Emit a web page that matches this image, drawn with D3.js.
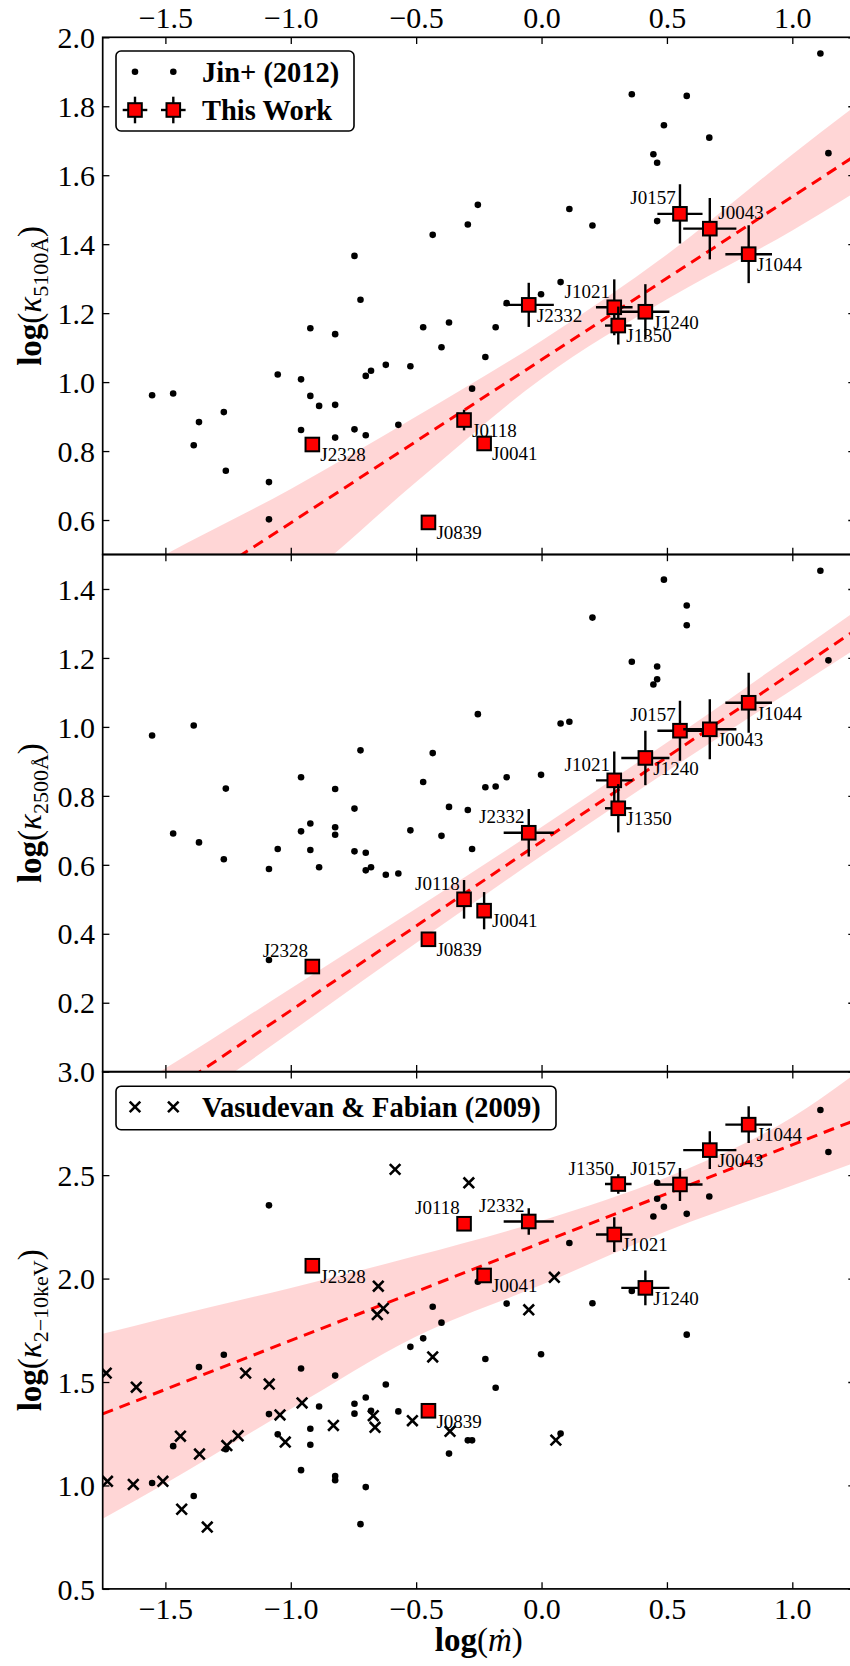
<!DOCTYPE html>
<html>
<head>
<meta charset="utf-8">
<script src="https://cdnjs.cloudflare.com/ajax/libs/d3/7.8.5/d3.min.js"></script>
<style>
  body { margin: 0; background: #fff; }
  text { font-family: 'Liberation Serif', 'DejaVu Serif', serif; fill: #000; }
</style>
</head>
<body>
<div class="chart"></div>
<script>
const svgWidth = 850;
const svgHeight = 1666;

//this work: sources, accretion rate and the three bolometric corrections
const names = ['J2328', 'J0839', 'J0118', 'J0041', 'J2332', 'J1021', 'J1350', 'J1240', 'J0157', 'J0043', 'J1044'];
const logMdot = [-0.914, -0.451, -0.309, -0.229, -0.051, 0.290, 0.306, 0.414, 0.552, 0.671, 0.826];
const logMdotErr = [0, 0, 0, 0, 0.100, 0.073, 0.053, 0.096, 0.090, 0.106, 0.093];
const k5100 = [0.819, 0.593, 0.890, 0.822, 1.224, 1.217, 1.164, 1.204, 1.488, 1.445, 1.371];
const k5100Err = [0.01, 0.01, 0.03, 0.02, 0.064, 0.081, 0.055, 0.080, 0.086, 0.089, 0.084];
const k2500 = [0.305, 0.384, 0.500, 0.467, 0.693, 0.845, 0.764, 0.910, 0.989, 0.993, 1.070];
const k2500Err = [0.01, 0.01, 0.056, 0.054, 0.069, 0.084, 0.070, 0.079, 0.087, 0.087, 0.087];
const kX = [2.062, 1.361, 2.265, 2.015, 2.276, 2.213, 2.457, 1.955, 2.455, 2.621, 2.744];
const kXErr = [0, 0, 0, 0, 0.064, 0.084, 0.047, 0.084, 0.080, 0.091, 0.089];

//Jin+ (2012) sample, [log mdot, log kappa]
const jin5100 = [[-1.553,0.962],[-1.469,0.967],[-1.387,0.817],[-1.366,0.884],[-1.267,0.913],[-1.259,0.743],[-1.087,0.710],[-1.087,0.602],[-1.052,1.022],[-0.959,1.008],[-0.959,0.861],[-0.922,1.156],[-0.922,0.960],[-0.887,0.931],[-0.823,1.139],[-0.823,0.934],[-0.823,0.839],[-0.746,1.366],[-0.722,1.239],[-0.746,0.863],[-0.701,1.018],[-0.680,1.033],[-0.701,0.846],[-0.621,1.050],[-0.571,0.876],[-0.523,1.046],[-0.472,1.159],[-0.434,1.427],[-0.399,1.101],[-0.369,1.173],[-0.294,1.457],[-0.254,1.514],[-0.277,0.981],[-0.224,1.073],[-0.183,1.159],[-0.139,1.229],[-0.002,1.255],[0.076,1.290],[0.111,1.502],[0.203,1.454],[0.360,1.835],[0.579,1.830],[0.488,1.745],[0.669,1.709],[0.446,1.661],[0.461,1.636],[0.461,1.467],[1.112,1.953],[1.144,1.664]];
const jin2500 = [[-1.553,0.975],[-1.469,0.691],[-1.387,1.004],[-1.366,0.665],[-1.267,0.616],[-1.259,0.821],[-1.087,0.588],[-1.087,0.324],[-1.052,0.646],[-0.959,0.854],[-0.959,0.697],[-0.922,0.720],[-0.922,0.643],[-0.887,0.593],[-0.823,0.820],[-0.823,0.709],[-0.823,0.687],[-0.746,0.763],[-0.722,0.932],[-0.746,0.639],[-0.701,0.635],[-0.701,0.584],[-0.680,0.593],[-0.621,0.571],[-0.571,0.575],[-0.523,0.700],[-0.472,0.840],[-0.434,0.924],[-0.399,0.684],[-0.369,0.768],[-0.294,0.759],[-0.254,1.037],[-0.277,0.646],[-0.224,0.825],[-0.183,0.827],[-0.139,0.854],[-0.002,0.861],[0.076,1.010],[0.111,1.015],[0.203,1.317],[0.360,1.189],[0.579,1.352],[0.488,1.427],[0.579,1.295],[0.461,1.175],[0.461,1.138],[0.446,1.123],[1.112,1.453],[1.144,1.193]];
const jinX = [[-1.087,2.354],[-1.366,1.572],[-1.267,1.632],[-1.469,1.190],[-1.553,1.012],[-1.387,0.949],[-1.259,1.175],[-1.087,1.345],[-1.052,1.247],[-0.959,1.565],[-0.959,1.074],[-0.922,1.274],[-0.922,1.197],[-0.887,1.382],[-0.823,1.531],[-0.823,1.046],[-0.823,1.025],[-0.746,1.395],[-0.746,1.347],[-0.722,0.813],[-0.701,1.425],[-0.701,0.992],[-0.680,1.361],[-0.621,1.488],[-0.571,1.358],[-0.523,1.670],[-0.472,1.711],[-0.434,1.864],[-0.399,1.787],[-0.254,1.985],[-0.224,1.611],[-0.183,1.472],[-0.139,1.879],[-0.002,1.634],[0.111,2.172],[0.203,1.881],[0.360,1.940],[0.461,2.463],[0.461,2.386],[0.488,2.347],[0.446,2.300],[0.579,2.313],[0.579,1.729],[0.669,2.397],[1.112,2.815],[1.144,2.612],[-0.369,1.154],[-0.294,1.218],[-0.277,1.218],[0.076,1.251]];

//Vasudevan & Fabian (2009) sample
const vf09 = [[-1.736,1.543],[-1.731,1.020],[-1.616,1.475],[-1.628,1.005],[-1.510,1.020],[-1.440,1.238],[-1.435,0.885],[-1.364,1.152],[-1.333,0.799],[-1.255,1.193],[-1.210,1.240],[-1.180,1.543],[-1.086,1.490],[-1.043,1.341],[-1.022,1.210],[-0.955,1.399],[-0.830,1.290],[-0.651,1.963],[-0.655,1.826],[-0.631,1.856],[-0.671,1.337],[-0.664,1.281],[-0.584,2.528],[-0.515,1.313],[-0.290,2.463],[0.051,2.006],[-0.051,1.849],[-0.434,1.621],[-0.365,1.262],[0.057,1.219]];

//best fits and their confidence bands
const fitX = [-1.75, 1.25];
const fit5100 = [0.237, 1.656];
const fit2500 = [-0.19, 1.28];
const fitKX = [1.346, 2.765];
const bandX = [-1.75, -1.5, -1.0, -0.5, 0.0, 0.5, 1.0, 1.25];
const band5100Lo = [0.00, 0.17, 0.40, 0.71, 1.01, 1.24, 1.44, 1.55];
const band5100Hi = [0.40, 0.50, 0.69, 0.90, 1.12, 1.37, 1.66, 1.80];
const band2500Lo = [-0.28, -0.144, 0.115, 0.373, 0.626, 0.871, 1.108, 1.225];
const band2500Hi = [-0.10, 0.010, 0.241, 0.473, 0.710, 0.955, 1.208, 1.335];
const bandKXLo = [0.839, 1.01, 1.37, 1.72, 1.97, 2.23, 2.45, 2.56];
const bandKXHi = [1.733, 1.81, 1.955, 2.11, 2.28, 2.49, 2.78, 2.99];

//tick values
const xTicks = [-1.5, -1.0, -0.5, 0.0, 0.5, 1.0];
const yTicks5100 = [0.6, 0.8, 1.0, 1.2, 1.4, 1.6, 1.8, 2.0];
const yTicks2500 = [0.2, 0.4, 0.6, 0.8, 1.0, 1.2, 1.4];
const yTicksKX = [0.5, 1.0, 1.5, 2.0, 2.5, 3.0];

//where each source label sits: br = below right, tl = above left, tr = above right
const place5100 = {J2328:'br', J0839:'br', J0118:'br', J0041:'br', J2332:'br', J1021:'tl', J1350:'br', J1240:'br', J0157:'tl', J0043:'tr', J1044:'br'};
const place2500 = {J2328:'tl', J0839:'br', J0118:'tl', J0041:'br', J2332:'tl', J1021:'tl', J1350:'br', J1240:'br', J0157:'tl', J0043:'br', J1044:'br'};
const placeKX = {J2328:'br', J0839:'br', J0118:'tl', J0041:'br', J2332:'tl', J1021:'br', J1350:'tl', J1240:'br', J0157:'tl', J0043:'br', J1044:'br'};

const panels = [
  {ylim: [0.5, 2.0], ticks: yTicks5100, jin: jin5100, k: k5100, kErr: k5100Err, fit: fit5100, lo: band5100Lo, hi: band5100Hi, place: place5100, sub: '5100Å', legend: 'jin'},
  {ylim: [0.0, 1.5], ticks: yTicks2500, jin: jin2500, k: k2500, kErr: k2500Err, fit: fit2500, lo: band2500Lo, hi: band2500Hi, place: place2500, sub: '2500Å', legend: null},
  {ylim: [0.5, 3.0], ticks: yTicksKX, jin: jinX, k: kX, kErr: kXErr, fit: fitKX, lo: bandKXLo, hi: bandKXHi, place: placeKX, sub: '2−10keV', legend: 'vf'}
];

const plotLeft = 102.7;
const plotRight = 855;
const plotTop = 37.3;
const panelHeight = 517.2;
const tickLen = 6.7;

const svg = d3.select('.chart')
  .append('svg')
  .attr('width', svgWidth)
  .attr('height', svgHeight);

const xScale = d3.scaleLinear()
  .domain([-1.75, 1.25])
  .range([plotLeft, plotRight]);

//error bars + red square, used by the plot and the legend
function drawWork(g, cx, cy, xe, ye) {
  if (xe > 0.5) {
    g.append('line').attr('x1', cx - xe).attr('x2', cx + xe).attr('y1', cy).attr('y2', cy)
      .attr('stroke', '#000').attr('stroke-width', 2.4);
  }
  if (ye > 0.5) {
    g.append('line').attr('x1', cx).attr('x2', cx).attr('y1', cy - ye).attr('y2', cy + ye)
      .attr('stroke', '#000').attr('stroke-width', 2.4);
  }
  g.append('rect')
    .attr('x', cx - 6.8).attr('y', cy - 6.8)
    .attr('width', 13.6).attr('height', 13.6)
    .attr('fill', '#ff0000')
    .attr('stroke', '#000')
    .attr('stroke-width', 2);
}

function drawCross(g, cx, cy) {
  const s = 5.3;
  g.append('path')
    .attr('d', `M${cx - s},${cy - s}L${cx + s},${cy + s}M${cx - s},${cy + s}L${cx + s},${cy - s}`)
    .attr('stroke', '#000')
    .attr('stroke-width', 2.6)
    .attr('fill', 'none');
}

panels.forEach(function(p, i) {
  const top = plotTop + i * panelHeight;
  const bottom = top + panelHeight;

  const yScale = d3.scaleLinear()
    .domain(p.ylim)
    .range([bottom, top]);

  const clipId = 'clip' + i;
  svg.append('clipPath').attr('id', clipId)
    .append('rect')
    .attr('x', plotLeft).attr('y', top)
    .attr('width', plotRight - plotLeft).attr('height', panelHeight);

  const plot = svg.append('g').attr('clip-path', `url(#${clipId})`);

  //confidence band
  const bandData = bandX.map((x, j) => [x, p.lo[j], p.hi[j]]);
  plot.append('path')
    .datum(bandData)
    .attr('d', d3.area()
      .x(d => xScale(d[0]))
      .y0(d => yScale(d[1]))
      .y1(d => yScale(d[2]))
      .curve(d3.curveMonotoneX))
    .attr('fill', '#ff0000')
    .attr('fill-opacity', 0.16);

  //best fit
  plot.append('path')
    .datum(fitX.map((x, j) => [x, p.fit[j]]))
    .attr('d', d3.line().x(d => xScale(d[0])).y(d => yScale(d[1])))
    .attr('stroke', '#ff0000')
    .attr('stroke-width', 3)
    .attr('stroke-dasharray', '11,7')
    .attr('fill', 'none');

  //jin+ points
  plot.selectAll('circle.jin')
    .data(p.jin)
    .enter()
    .append('circle')
    .attr('class', 'jin')
    .attr('cx', d => xScale(d[0]))
    .attr('cy', d => yScale(d[1]))
    .attr('r', 3.3)
    .attr('fill', '#000');

  //vasudevan & fabian crosses only in the x-ray panel
  if (p.legend === 'vf') {
    vf09.forEach(d => drawCross(plot, xScale(d[0]), yScale(d[1])));
  }

  //this work
  names.forEach(function(name, j) {
    const cx = xScale(logMdot[j]);
    const cy = yScale(p.k[j]);
    const xe = xScale(logMdot[j] + logMdotErr[j]) - cx;
    const ye = cy - yScale(p.k[j] + p.kErr[j]);
    drawWork(plot, cx, cy, xe, ye);
  });

  //source labels
  names.forEach(function(name, j) {
    const cx = xScale(logMdot[j]);
    const cy = yScale(p.k[j]);
    const pos = p.place[name];
    const label = svg.append('text')
      .attr('font-size', 19)
      .text(name);
    if (pos === 'br') {
      label.attr('x', cx + 8).attr('y', cy + 16.8).attr('text-anchor', 'start');
    } else if (pos === 'tr') {
      label.attr('x', cx + 8.5).attr('y', cy - 9.5).attr('text-anchor', 'start');
    } else {
      label.attr('x', cx - 4.3).attr('y', cy - 9.5).attr('text-anchor', 'end');
    }
  });

  //frame
  svg.append('rect')
    .attr('x', plotLeft).attr('y', top)
    .attr('width', plotRight - plotLeft).attr('height', panelHeight)
    .attr('fill', 'none')
    .attr('stroke', '#000')
    .attr('stroke-width', 1.7);

  //axes, ticks pointing inwards on all four sides
  const topAxis = svg.append('g')
    .attr('transform', `translate(0, ${top})`)
    .call(d3.axisTop(xScale).tickValues(xTicks).tickSize(-tickLen).tickPadding(9)
      .tickFormat(i === 0 ? d3.format('.1f') : ''));
  const bottomAxis = svg.append('g')
    .attr('transform', `translate(0, ${bottom})`)
    .call(d3.axisBottom(xScale).tickValues(xTicks).tickSize(-tickLen).tickPadding(8.4)
      .tickFormat(i === 2 ? d3.format('.1f') : ''));
  const leftAxis = svg.append('g')
    .attr('transform', `translate(${plotLeft}, 0)`)
    .call(d3.axisLeft(yScale).tickValues(p.ticks).tickSize(-tickLen).tickPadding(7.7)
      .tickFormat(d3.format('.1f')));
  const rightAxis = svg.append('g')
    .attr('transform', `translate(${plotRight}, 0)`)
    .call(d3.axisRight(yScale).tickValues(p.ticks).tickSize(-tickLen).tickFormat(''));

  [topAxis, bottomAxis, leftAxis, rightAxis].forEach(function(a) {
    a.select('.domain').remove();
    a.selectAll('.tick line').attr('stroke-width', 1.3);
    a.selectAll('.tick text')
      .attr('font-family', "'Liberation Serif', serif")
      .attr('font-size', 30);
  });
  leftAxis.selectAll('.tick text').attr('dy', '0.34em');

  //y axis label
  const yLabel = svg.append('text')
    .attr('transform', `translate(41, ${(top + bottom) / 2}) rotate(-90)`)
    .attr('text-anchor', 'middle')
    .attr('font-size', 33);
  yLabel.append('tspan').attr('font-weight', 'bold').text('log');
  yLabel.append('tspan').text('(');
  yLabel.append('tspan').attr('font-style', 'italic').text('κ');
  yLabel.append('tspan').attr('font-size', 22).attr('dy', 7).text(p.sub);
  yLabel.append('tspan').attr('dy', -7).text(')');

  //legends
  if (p.legend === 'jin') {
    const lg = svg.append('g');
    lg.append('rect')
      .attr('x', 116).attr('y', top + 13.7)
      .attr('width', 238).attr('height', 80)
      .attr('rx', 5)
      .attr('fill', '#fff')
      .attr('stroke', '#000')
      .attr('stroke-width', 1.6);
    [135, 173.3].forEach(function(lx) {
      lg.append('circle').attr('cx', lx).attr('cy', top + 34.4).attr('r', 3.3).attr('fill', '#000');
      drawWork(lg, lx, top + 72.7, 12.3, 13.3);
    });
    lg.append('text').attr('x', 202).attr('y', top + 44.4)
      .attr('font-size', 28.5).attr('font-weight', 'bold').text('Jin+ (2012)');
    lg.append('text').attr('x', 202).attr('y', top + 82.7)
      .attr('font-size', 28.5).attr('font-weight', 'bold').text('This Work');
  } else if (p.legend === 'vf') {
    const lg = svg.append('g');
    lg.append('rect')
      .attr('x', 116).attr('y', top + 14.5)
      .attr('width', 440).attr('height', 43.5)
      .attr('rx', 5)
      .attr('fill', '#fff')
      .attr('stroke', '#000')
      .attr('stroke-width', 1.6);
    [135, 173.3].forEach(lx => drawCross(lg, lx, top + 35.2));
    lg.append('text').attr('x', 202).attr('y', top + 45.2)
      .attr('font-size', 28.5).attr('font-weight', 'bold').text('Vasudevan & Fabian (2009)');
  }
});

//x axis label
const xLabel = svg.append('text')
  .attr('x', (plotLeft + plotRight) / 2)
  .attr('y', 1651)
  .attr('text-anchor', 'middle')
  .attr('font-size', 33);
xLabel.append('tspan').attr('font-weight', 'bold').text('log');
xLabel.append('tspan').text('(');
xLabel.append('tspan').attr('font-style', 'italic').text('ṁ');
xLabel.append('tspan').text(')');
</script>
</body>
</html>
